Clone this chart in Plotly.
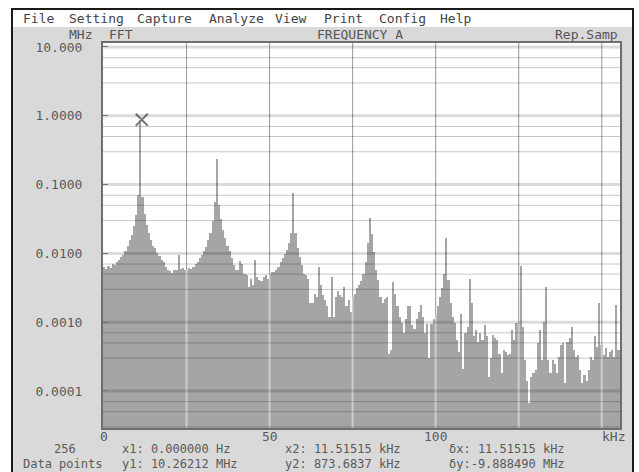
import plotly.graph_objects as go

# ---------------- data ----------------
BIN_KHZ = 11.51515 / 18          # frequency step of the displayed points

amplitude_mhz = [
    0.0060, 0.0064, 0.0060, 0.0066, 0.0062, 0.0070, 0.0067, 0.0074, 0.0080, 0.0090,
    0.0095, 0.011, 0.013, 0.0157, 0.0185, 0.025, 0.036, 0.070, 0.8737, 0.065,
    0.038, 0.026, 0.0196, 0.0157, 0.013, 0.0118, 0.010, 0.0093, 0.0080, 0.0074,
    0.0064, 0.0057, 0.0056, 0.0052, 0.0057, 0.0058, 0.0095, 0.0060, 0.0062, 0.0058,
    0.0057, 0.0061, 0.0060, 0.0064, 0.0070, 0.0076, 0.0085, 0.0095, 0.0107, 0.0125,
    0.0157, 0.0196, 0.030, 0.055, 0.233, 0.050, 0.032, 0.022, 0.0165, 0.013,
    0.0107, 0.0085, 0.0067, 0.0057, 0.0058, 0.0078, 0.0070, 0.0051, 0.0048, 0.0032,
    0.0042, 0.0035, 0.0080, 0.0045, 0.0041, 0.0040, 0.0046, 0.0048, 0.0042, 0.0051,
    0.0054, 0.0054, 0.0057, 0.0064, 0.0074, 0.0085, 0.0098, 0.0112, 0.014, 0.020,
    0.0746, 0.020, 0.012, 0.0090, 0.0067, 0.0051, 0.0048, 0.0043, 0.0019, 0.0019,
    0.0026, 0.0023, 0.0064, 0.0035, 0.0025, 0.0021, 0.0017, 0.0012, 0.0045, 0.0012,
    0.0023, 0.0028, 0.0025, 0.0023, 0.0032, 0.0017, 0.0021, 0.0014, 0.0023, 0.0026,
    0.0031, 0.0035, 0.0040, 0.0051, 0.0075, 0.014, 0.0323, 0.019, 0.0105, 0.0057,
    0.0041, 0.0023, 0.0019, 0.0022, 0.0023, 0.00035, 0.0004, 0.0039, 0.0026, 0.0017,
    0.0012, 0.00098, 0.0007, 0.0011, 0.0017, 0.0017, 0.0009, 0.0008, 0.0011, 0.0014,
    0.0018, 0.0012, 0.0007, 0.00095, 0.0003, 0.00095, 0.0011, 0.0013, 0.0017, 0.0023,
    0.0031, 0.0051, 0.0166, 0.0041, 0.0019, 0.0012, 0.00096, 0.00055, 0.00037, 0.0013,
    0.00021, 0.0007, 0.00085, 0.0042, 0.0019, 0.00062, 0.00077, 0.00052, 0.0007, 0.00055,
    0.0009, 0.00062, 0.00016, 0.0003, 0.00065, 0.00058, 0.00055, 0.00035, 0.00018, 0.0004,
    0.00037, 0.00033, 0.00035, 0.00077, 0.00055, 0.00096, 0.0010, 0.0066, 0.00086, 0.00028,
    0.00014, 0.000066, 0.00016, 0.00018, 0.0002, 0.0005, 0.00077, 0.00028, 0.0010, 0.0033,
    0.00028, 0.00018, 0.00028, 0.00025, 0.00018, 0.00031, 0.00046, 0.0005, 0.00013, 0.00052,
    0.00058, 0.00086, 0.0004, 0.00031, 0.00033, 0.0002, 0.00013, 0.00017, 0.00014, 0.0002,
    0.00031, 0.00028, 0.00062, 0.00044, 0.0019, 0.00046, 0.00033, 0.00042, 0.00031, 0.00037,
    0.0004, 0.00031, 0.0018, 0.0004,
]
freq_khz = [i * BIN_KHZ for i in range(len(amplitude_mhz))]

cursor_x_khz = [11.51515]
cursor_y_mhz = [0.8737]

y_tickvals = [10, 1, 0.1, 0.01, 0.001, 0.0001]
y_ticktext = ["10.000", "1.0000", "0.1000", "0.0100", "0.0010", "0.0001"]
y_minor_factors = [0.7, 0.5, 0.3]
x_tickvals = [0, 50, 100]
x_ticktext = ["0", "50", "100"]
x_gridvals = [25, 50, 75, 100, 125, 150]

menu_items = ["File", "Setting", "Capture", "Analyze", "View", "Print", "Config", "Help"]
menu_x_px = [21, 67, 135, 207, 273, 322, 377, 438]
header_items = ["MHz", "FFT", "FREQUENCY A", "Rep.Samp"]
header_x_px = [67, 107, 315, 553]
status_line1 = ["256", "x1: 0.000000 Hz", "x2: 11.51515 kHz", "δx: 11.51515 kHz"]
status_line2 = ["Data points", "y1: 10.26212 MHz", "y2: 873.6837 kHz", "δy:-9.888490 MHz"]
status_x1_px = [52, 120, 283, 447]
status_x2_px = [21, 120, 283, 447]

# ---------------- layout geometry ----------------
W, H = 639, 472
L, R, T, B = 103, 620, 43, 428
PW, PH = R - L, B - T


def px(x):
    return (x - L) / PW


def py(y):
    return (B - y) / PH


MONO = "DejaVu Sans Mono"
PANEL = "#d9d9d9"
TXT = "#5a5a5a"

fig = go.Figure()
fig.add_trace(go.Bar(
    x=freq_khz, y=amplitude_mhz, width=BIN_KHZ, offset=-0.72,
    marker=dict(color="#a5a5a5", line=dict(width=0)),
    hoverinfo="skip", showlegend=False,
))
fig.add_trace(go.Scatter(
    x=cursor_x_khz, y=cursor_y_mhz, mode="markers",
    marker=dict(symbol="x-thin", size=12, line=dict(width=2, color="#7a7a7a")),
    hoverinfo="skip", showlegend=False, cliponaxis=False,
))

shapes = []
# white surroundings (menu bar, outside window)
shapes.append(dict(type="rect", xref="paper", yref="paper", x0=px(0), x1=px(W), y0=py(27), y1=py(0),
                   fillcolor="white", line=dict(width=0), layer="below"))
shapes.append(dict(type="rect", xref="paper", yref="paper", x0=px(0), x1=px(11), y0=py(H), y1=py(0),
                   fillcolor="white", line=dict(width=0), layer="below"))
shapes.append(dict(type="rect", xref="paper", yref="paper", x0=px(634), x1=px(W), y0=py(H), y1=py(0),
                   fillcolor="white", line=dict(width=0), layer="below"))
# window black border
for x0, y0, x1, y1 in [(12, 8, 12, H), (633, 8, 633, H), (11, 9, 634, 9)]:
    shapes.append(dict(type="line", xref="paper", yref="paper", x0=px(x0), x1=px(x1), y0=py(y0), y1=py(y1),
                       line=dict(color="#1a1a1a", width=2), layer="above"))
# vertical grid: dark line below bars, light overlay above
for gx in x_gridvals:
    shapes.append(dict(type="line", xref="x", yref="paper", x0=gx, x1=gx, y0=0, y1=1,
                       line=dict(color="#4a4a4a", width=1), layer="below"))
    shapes.append(dict(type="line", xref="x", yref="paper", x0=gx, x1=gx, y0=0, y1=1,
                       line=dict(color="rgba(255,255,255,0.45)", width=2), layer="above"))
# horizontal log grid drawn over the bars
for dv in y_tickvals:
    shapes.append(dict(type="line", xref="paper", yref="y", x0=0, x1=1, y0=dv, y1=dv,
                       line=dict(color="rgba(0,0,0,0.14)", width=3), layer="above"))
    for f in y_minor_factors:
        shapes.append(dict(type="line", xref="paper", yref="y", x0=0, x1=1, y0=dv * f, y1=dv * f,
                           line=dict(color="rgba(0,0,0,0.22)", width=1), layer="above"))

annotations = []


def add_text(text, x, y, size=13, color=TXT):
    annotations.append(dict(text=text, xref="paper", yref="paper", x=px(x), y=py(y),
                            xanchor="left", yanchor="middle", showarrow=False,
                            font=dict(family=MONO, size=size, color=color)))


for t, x in zip(menu_items, menu_x_px):
    add_text(t, x, 19, color="#444444")
for t, x in zip(header_items, header_x_px):
    add_text(t, x, 34, color="#555555")
for t, x in zip(status_line1, status_x1_px):
    add_text(t, x, 449, size=12)
for t, x in zip(status_line2, status_x2_px):
    add_text(t, x, 464, size=12)
add_text("kHz", 600, 437)
# x tick labels placed just under the frame
for v, t in zip(x_tickvals, x_ticktext):
    annotations.append(dict(text=t, xref="x", yref="paper", x=v, y=py(437),
                            xanchor="center", yanchor="middle", showarrow=False,
                            font=dict(family=MONO, size=13, color=TXT)))

fig.update_layout(
    width=W, height=H, autosize=False,
    margin=dict(l=L, r=W - R, t=T, b=H - B, pad=0),
    paper_bgcolor=PANEL, plot_bgcolor="white",
    bargap=0, showlegend=False,
    shapes=shapes, annotations=annotations,
    xaxis=dict(range=[-0.15, 155.5], showgrid=False, zeroline=False,
               showticklabels=False, ticks="",
               showline=True, mirror=True, linecolor="#6e6e6e", linewidth=2),
    yaxis=dict(type="log", range=[-4.538, 1.058], showgrid=False, zeroline=False,
               tickvals=y_tickvals, ticktext=y_ticktext,
               ticks="inside", ticklen=5, tickcolor="#888888",
               ticklabelstandoff=16,
               tickfont=dict(family=MONO, size=13, color=TXT),
               showline=True, mirror=True, linecolor="#6e6e6e", linewidth=2),
)

fig.write_html("out.html", config={"displayModeBar": False},
               post_script="document.body.style.margin='0px';document.body.style.padding='0px';")
